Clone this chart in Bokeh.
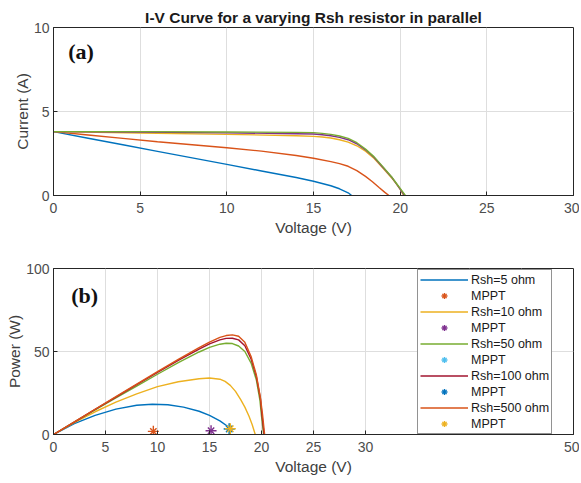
from bokeh.plotting import figure
from bokeh.layouts import column
from bokeh.models import Range1d, Legend, LegendItem, Label, FixedTicker
from bokeh.embed import file_html
from bokeh.resources import INLINE

# MATLAB default colour order
C1, C2, C3, C4, C5, C6, C7 = ("#0072BD", "#D95319", "#EDB120", "#7E2F8E",
                              "#77AC30", "#4DBEEE", "#A2142F")

# ---------- (a) I-V curves ----------
iv_v_5 = [0, 2, 4, 6, 8, 10, 12, 14, 15, 16, 16.5, 17, 17.2]
iv_i_5 = [3.8, 3.41, 3.02, 2.63, 2.24, 1.85, 1.46, 1.07, 0.85, 0.58, 0.4, 0.16, 0.0]

iv_v_10 = [0, 2, 4, 6, 8, 10, 12, 14, 15, 16, 16.5, 17, 17.5, 18, 18.4, 18.8, 19.1, 19.35]
iv_i_10 = [3.8, 3.6, 3.4, 3.2, 3.02, 2.84, 2.64, 2.38, 2.22, 2.02, 1.9, 1.74, 1.48, 1.14, 0.82, 0.46, 0.2, 0.0]

iv_v_50 = [0, 5, 10, 14, 15, 15.5, 16, 16.5, 17, 17.5, 18, 18.5, 19, 19.5, 19.8, 20, 20.2]
iv_i_50 = [3.8, 3.72, 3.64, 3.56, 3.52, 3.48, 3.42, 3.32, 3.18, 2.96, 2.64, 2.2, 1.64, 1.06, 0.66, 0.36, 0.0]

iv_v_100 = [0, 5, 10, 14, 15, 15.5, 16, 16.5, 17, 17.5, 18, 18.5, 19, 19.5, 19.8, 20, 20.25]
iv_i_100 = [3.8, 3.77, 3.73, 3.68, 3.66, 3.62, 3.56, 3.46, 3.32, 3.08, 2.72, 2.26, 1.68, 1.1, 0.68, 0.38, 0.0]

iv_v_500 = [0, 5, 10, 14, 15, 15.5, 16, 16.5, 17, 17.5, 18, 18.5, 19, 19.5, 19.8, 20, 20.3]
iv_i_500 = [3.8, 3.8, 3.78, 3.76, 3.74, 3.7, 3.64, 3.54, 3.4, 3.14, 2.76, 2.3, 1.72, 1.12, 0.7, 0.42, 0.0]

# ---------- (b) P-V curves ----------
pv_v_5 = [0, 2, 4, 6, 8, 9.5, 11, 12.5, 14, 15, 16, 16.9]
pv_p_5 = [0, 6.5, 11.5, 15.3, 17.6, 18.2, 17.9, 16.5, 14.0, 11.5, 8.2, 4.2]

pv_v_10 = [0, 2, 4, 6, 8, 10, 12, 14, 15, 16, 16.5, 17, 17.5, 18, 18.4, 18.8, 19.1, 19.4]
pv_p_10 = [0, 7.2, 13.7, 19.5, 24.5, 28.8, 31.8, 33.6, 34.0, 33.3, 32.0, 29.6, 26.0, 21.0, 16.5, 11.0, 6.0, 0]

pv_v_50 = [0, 2, 4, 6, 8, 10, 12, 14, 15, 16, 16.6, 17.2, 17.8, 18.4, 19, 19.5, 19.85, 20.0, 20.2]
pv_p_50 = [0, 7.4, 14.8, 22.0, 29.2, 36.3, 43.3, 49.7, 52.5, 54.4, 55.0, 54.8, 53.3, 50.0, 43.0, 33.0, 20.5, 11.0, 0]

pv_v_100 = [0, 2, 4, 6, 8, 10, 12, 14, 15, 16, 16.6, 17.2, 17.8, 18.4, 19, 19.5, 19.9, 20.05, 20.25]
pv_p_100 = [0, 7.5, 15.1, 22.5, 30.0, 37.4, 44.6, 51.4, 54.6, 57.0, 57.9, 58.0, 57.0, 53.5, 45.5, 35.0, 21.5, 11.5, 0]

pv_v_500 = [0, 2, 4, 6, 8, 10, 12, 14, 15, 16, 16.6, 17.2, 17.8, 18.4, 19, 19.5, 19.9, 20.1, 20.3]
pv_p_500 = [0, 7.6, 15.2, 22.8, 30.4, 37.9, 45.3, 52.4, 55.7, 58.5, 59.6, 60.0, 59.2, 55.5, 47.0, 36.0, 22.0, 12.0, 0]

# MPPT markers as drawn in the reference
mppt_v = [9.6, 15.15, 16.9, 16.9, 17.0]
mppt_y = [1.9, 2.25, 3.3, 3.4, 3.45]
mppt_colors = [C2, C4, C6, C1, C3]

rsh_labels = ["Rsh=5 ohm", "Rsh=10 ohm", "Rsh=50 ohm", "Rsh=100 ohm", "Rsh=500 ohm"]

x_ticks_a = [0, 5, 10, 15, 20, 25, 30]
y_ticks_a = [0, 5, 10]
x_grid_b = [0, 5, 10, 15, 20, 25, 30, 35, 40, 45, 50]
x_ticks_b = [0, 5, 10, 15, 20, 25, 30, 50]   # 35-45 sit under the legend
y_ticks_b = [0, 50, 100]

FONT = "Liberation Sans"
TICK_COLOR = "#4d4d4d"


def style(p, xticks, xgrid, yticks, xlabel, ylabel):
    p.xaxis.axis_label = xlabel
    p.yaxis.axis_label = ylabel
    for ax in p.xaxis + p.yaxis:
        ax.axis_label_text_font = FONT
        ax.axis_label_text_font_style = "normal"
        ax.axis_label_text_font_size = "15.5px"
        ax.axis_label_text_color = "#404040"
        ax.major_label_text_font = FONT
        ax.major_label_text_font_size = "14px"
        ax.major_label_text_color = TICK_COLOR
        ax.axis_line_color = "#262626"
        ax.major_tick_line_color = "#262626"
        ax.major_tick_in = 4
        ax.major_tick_out = 0
        ax.minor_tick_line_color = None
    p.xaxis.ticker = FixedTicker(ticks=xticks)
    p.yaxis.ticker = FixedTicker(ticks=yticks)
    p.xaxis.major_label_standoff = 7
    p.yaxis.major_label_standoff = 4
    p.xaxis.axis_label_standoff = 3
    p.yaxis.axis_label_standoff = 0
    p.xgrid.ticker = FixedTicker(ticks=xgrid)
    p.ygrid.ticker = FixedTicker(ticks=yticks)
    p.grid.grid_line_color = "#dedede"
    p.grid.grid_line_width = 1
    p.outline_line_color = "#262626"
    p.outline_line_alpha = 1.0
    p.background_fill_color = "white"
    p.border_fill_color = "white"


# ---------- figure (a) ----------
p1 = figure(width=579, height=241, output_backend="svg", toolbar_location=None,
            x_range=Range1d(0, 30), y_range=Range1d(0, 10),
            min_border_left=53, min_border_right=6, min_border_top=27, min_border_bottom=46,
            title="I-V Curve for a varying Rsh resistor in parallel")
p1.title.align = "center"
p1.title.offset = 9
p1.title.text_font = FONT
p1.title.text_font_size = "15.5px"
p1.title.text_font_style = "bold"
p1.title.text_color = "#1a1a1a"
p1.title.standoff = 4

iv_sets = [(iv_v_5, iv_i_5, C1), (iv_v_10, iv_i_10, C2), (iv_v_50, iv_i_50, C3),
           (iv_v_100, iv_i_100, C4), (iv_v_500, iv_i_500, C5)]
for xs, ys, c in iv_sets:
    p1.line(xs, ys, line_color=c, line_width=1.4)
style(p1, x_ticks_a, x_ticks_a, y_ticks_a, "Voltage (V)", "Current (A)")
p1.add_layout(Label(x=0.85, y=8.6, text="(a)", text_font="Liberation Serif",
                    text_font_style="bold", text_font_size="22px",
                    text_baseline="middle", text_color="#111111"))

# ---------- figure (b) ----------
p2 = figure(width=579, height=239, output_backend="svg", toolbar_location=None,
            x_range=Range1d(0, 50), y_range=Range1d(0, 100),
            min_border_left=53, min_border_right=6, min_border_top=27, min_border_bottom=46)

pv_sets = [(pv_v_5, pv_p_5, C1), (pv_v_10, pv_p_10, C3), (pv_v_50, pv_p_50, C5),
           (pv_v_100, pv_p_100, C7), (pv_v_500, pv_p_500, C2)]
items = []
for k, (xs, ys, c) in enumerate(pv_sets):
    r = p2.line(xs, ys, line_color=c, line_width=1.4)
    m1 = p2.scatter([mppt_v[k]], [mppt_y[k]], marker="cross", size=11,
                    line_color=mppt_colors[k], line_width=1.4)
    m2 = p2.scatter([mppt_v[k]], [mppt_y[k]], marker="x", size=9,
                    line_color=mppt_colors[k], line_width=1.4)
    items.append(LegendItem(label=rsh_labels[k], renderers=[r]))
    items.append(LegendItem(label="MPPT", renderers=[m1, m2]))

style(p2, x_ticks_b, x_grid_b, y_ticks_b, "Voltage (V)", "Power (W)")
p2.add_layout(Label(x=1.7, y=84, text="(b)", text_font="Liberation Serif",
                    text_font_style="bold", text_font_size="22px",
                    text_baseline="middle", text_color="#111111"))

legend = Legend(items=items, orientation="vertical",
                label_text_font=FONT, label_text_font_size="12.5px",
                label_text_color="#1a1a1a",
                glyph_width=48, glyph_height=15, label_height=15, label_standoff=3,
                spacing=1, padding=2, margin=0,
                border_line_color="#262626", border_line_width=1,
                background_fill_color="white", background_fill_alpha=1.0)
legend.location = (364, 0)
p2.add_layout(legend, "center")

layout = column(p1, p2, spacing=0)
open("out.html", "w").write(file_html(layout, INLINE))
